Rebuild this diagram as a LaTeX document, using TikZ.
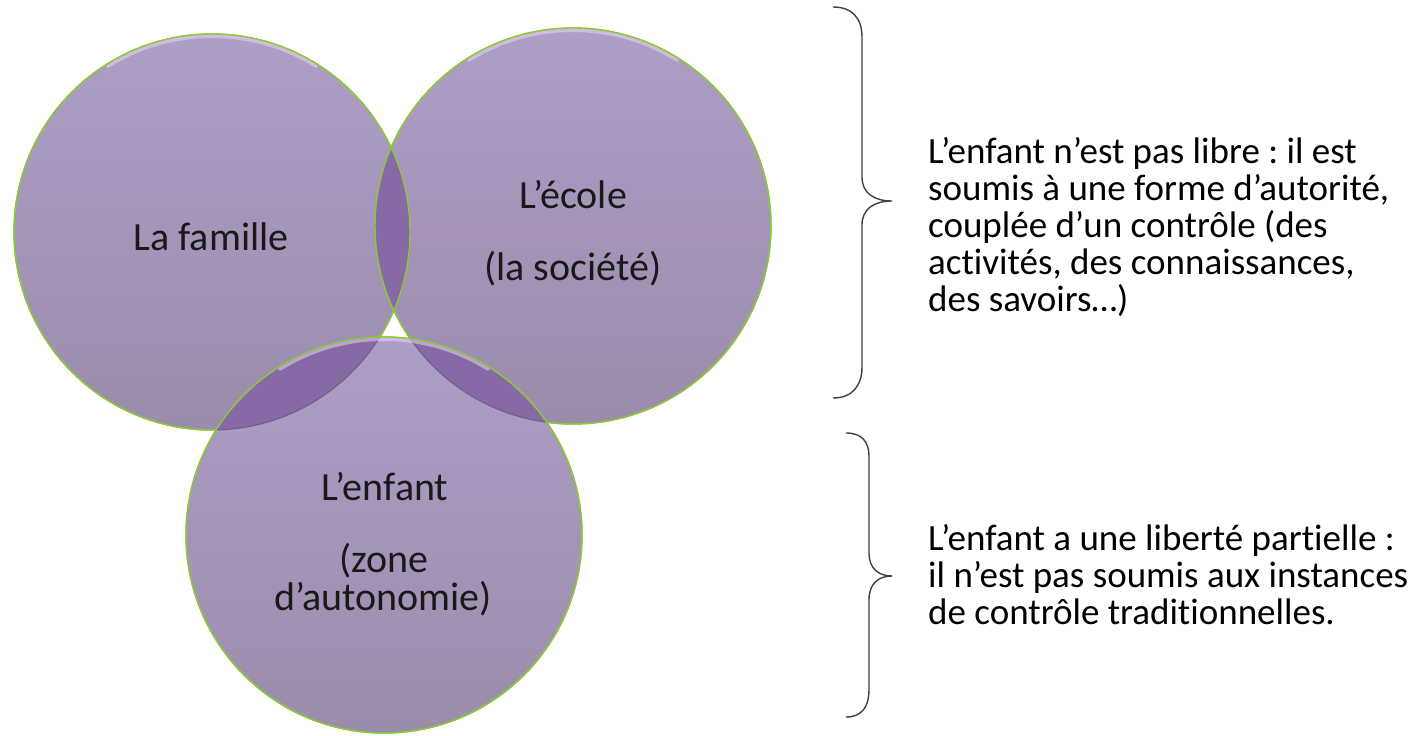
\documentclass[tikz,border=0pt]{standalone}
\usepackage{fontspec}
\setmainfont{Carlito}[Ligatures={NoCommon}]

\definecolor{vtop}{HTML}{AE9DC6}
\definecolor{vbot}{HTML}{9C8CAB}
\definecolor{vlens}{HTML}{8769A6}
\definecolor{vrim}{HTML}{8CC63F}
\definecolor{vedge}{HTML}{6E6080}
\definecolor{vglow}{HTML}{EEDDF8}
\definecolor{bracecol}{HTML}{404040}

\tikzset{
  venn/.style={circle, minimum size=396pt, inner sep=0pt, draw=vrim, line width=1.4pt, top color=vtop, bottom color=vbot},
  rim/.style={draw=vrim, line width=1.4pt},
  glow/.style={draw=vglow, line width=4pt, opacity=0.5, line cap=round},
  lbl/.style={font=\fontsize{40}{38}\selectfont, text=black!90, anchor=base, inner sep=0pt},
  note/.style={font=\fontsize{37}{37}\selectfont, align=left, anchor=west, inner sep=0pt},
  curly/.style={draw=bracecol, line width=1.4pt},
}

\begin{document}
\frenchspacing
\begin{tikzpicture}[x=1pt, y=-1pt]
  \useasboundingbox (0,0) rectangle (1425,736);
  % circles
  \node[venn] (famille) at (212,232) {};
  \node[venn] (ecole) at (573,226) {};
  \begin{scope}
    \clip (famille.center) circle [radius=198pt];
    \fill[vlens] (ecole.center) circle [radius=198pt];
  \end{scope}
  \foreach \c in {famille,ecole}
    \draw[glow] (\c.center) ++(-58:196) arc (-58:-122:196);
  \draw[rim] (famille.center) circle [radius=198pt] (ecole.center) circle [radius=198pt];
  \node[venn] (enfant) at (384,535) {};
  \foreach \c in {famille,ecole} {
    \begin{scope}
      \clip (enfant.center) circle [radius=198pt];
      \fill[vlens] (\c.center) circle [radius=198pt];
      \draw[vedge, line width=1pt] (\c.center) circle [radius=198pt];
    \end{scope}
  }
  \draw[glow] (enfant.center) ++(-58:196) arc (-58:-122:196);
  \draw[rim] (enfant.center) circle [radius=198pt];

  % labels
  \node[lbl] (t-famille) at (211,250) {La famille};
  \node[lbl] (t-ecole) at (573,208) {L’école};
  \node[lbl] (t-societe) at (573,280) {(la société)};
  \node[lbl] (t-enfant) at (385,500) {L’enfant};
  \node[lbl] (t-zone) at (384,572) {(zone};
  \node[lbl] (t-auto) at (383,610) {d’autonomie)};

  % braces
  \draw[curly] (833,7) .. controls (852,7) and (862,18) .. (862,37) -- (862,177)
    .. controls (862,193) and (874,201) .. (892,201)
    .. controls (874,201) and (862,209) .. (862,225) -- (862,367)
    .. controls (862,386) and (852,398) .. (833,398);
  \draw[curly] (846,433) .. controls (862,433) and (869,442) .. (869,456) -- (869,553)
    .. controls (869,568) and (878,576) .. (892,576)
    .. controls (878,576) and (869,584) .. (869,600) -- (869,689)
    .. controls (869,707) and (862,717) .. (846,717);

  % notes
  \node[note] (libre) at (928,227) {L’enfant n’est pas libre : il est\\soumis à une forme d’autorité,\\couplée d’un contrôle (des\\activités, des connaissances,\\des savoirs…)};
  \node[note] (partiel) at (928,575) {L’enfant a une liberté partielle :\\il n’est pas soumis aux instances\\de contrôle traditionnelles.};
\end{tikzpicture}
\end{document}
